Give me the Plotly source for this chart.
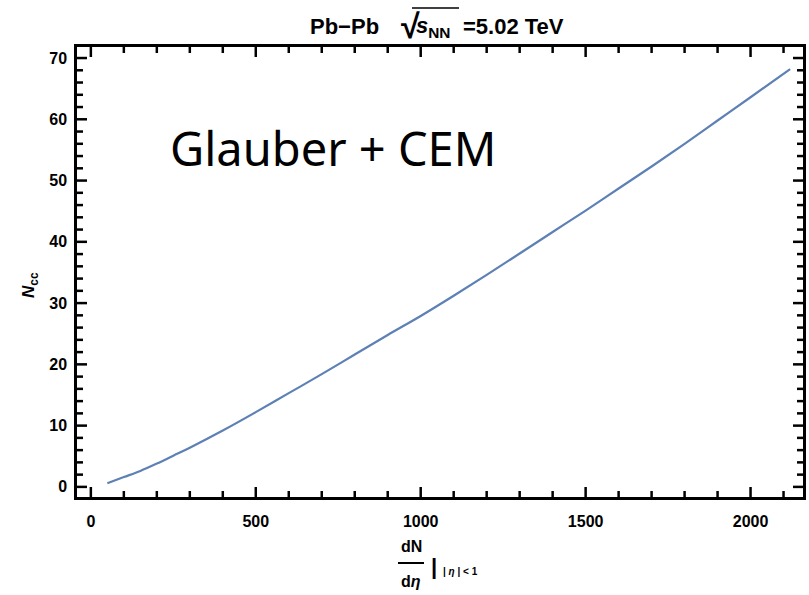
import plotly.graph_objects as go

# dN/deta (|eta|<1) and the number of charm pairs N_cc
dndeta = [50, 100, 150, 200, 250, 300, 400, 500, 600, 700, 800, 900, 1000,
          1100, 1200, 1300, 1400, 1500, 1600, 1700, 1800, 1900, 2000, 2120]
ncc = [0.6, 1.6, 2.6, 3.8, 5.1, 6.4, 9.2, 12.2, 15.3, 18.4, 21.6, 24.8, 27.9,
       31.2, 34.6, 38.1, 41.6, 45.1, 48.7, 52.3, 56.0, 59.8, 63.6, 68.2]

x_major = [0, 500, 1000, 1500, 2000]
x_minor = [v for v in range(0, 2101, 100) if v not in x_major]
y_major = [0, 10, 20, 30, 40, 50, 60, 70]
y_minor = [v for v in range(0, 71, 2) if v not in y_major]
x_range = [-42, 2159]
y_range = [-1.65, 71.8]

W, H = 809, 595
L, R, T, B = 77, 6, 47, 98
PW, PH = W - L - R, H - T - B


def px(x):
    return (x - L) / PW


def py(y):
    return (H - B - y) / PH


FAM = "Liberation Sans"


def bold(size):
    return dict(family=FAM, size=size, color="black", weight="bold")


fig = go.Figure()
fig.add_trace(go.Scatter(x=dndeta, y=ncc, mode="lines",
                         line=dict(color="#5E81B5", width=2.2, shape="spline"),
                         showlegend=False, hoverinfo="skip"))

axis_common = dict(showline=True, linecolor="black", linewidth=2.5,
                   mirror=True, ticks="", showgrid=False, zeroline=False,
                   tickfont=bold(16), tickmode="array", ticklabelstandoff=8)

fig.update_xaxes(range=x_range, tickvals=x_major,
                 ticktext=[str(v) for v in x_major], **axis_common)
fig.update_yaxes(range=y_range, tickvals=y_major,
                 ticktext=[str(v) for v in y_major], **axis_common)
fig.update_yaxes(ticklabelstandoff=4)


def label(x, y, text, font, xanchor="left", angle=0):
    return dict(x=px(x), y=py(y), xref="paper", yref="paper", text=text,
                showarrow=False, font=font, xanchor=xanchor,
                yanchor="middle", textangle=angle)


annotations = [
    # title: Pb-Pb  sqrt(s_NN) = 5.02 TeV
    label(308, 27, "Pb\u2212Pb", bold(22)),
    label(399, 26, "\u221a", bold(34)),
    label(414, 27, "<i>s</i><sub>NN</sub>", bold(22)),
    label(461, 27, "=5.02 TeV", bold(22)),
    # y-axis title
    label(30, 285, "<i>N</i><sub>cc</sub>", bold(17), "center", -90),
    # x-axis title: dN / deta |_{|eta|<1}
    label(411, 546, "dN", bold(16), "center"),
    label(411, 581, "d<i>η</i>", bold(16), "center"),
    label(434, 566, "|", bold(22), "center"),
    label(441, 571, "| <i>η</i> | < 1", bold(10)),
    # model label
    label(333, 148, "Glauber + CEM",
          dict(family="Comic Sans MS, Noto Sans", size=47, color="black"),
          "center"),
]

TICK = dict(color="black", width=2.5)
shapes = [
    # fraction bar
    dict(type="line", xref="paper", yref="paper",
         x0=px(398), x1=px(424), y0=py(563), y1=py(563),
         line=dict(color="black", width=2)),
    # radical vinculum over s_NN
    dict(type="line", xref="paper", yref="paper",
         x0=px(412), x1=px(459), y0=py(8), y1=py(8),
         line=dict(color="black", width=1.5)),
]

# inward tick marks on all four sides of the frame
for vals, length in ((x_major, 10), (x_minor, 6)):
    f = length / PH
    for v in vals:
        for y0, y1 in ((0, f), (1 - f, 1)):
            shapes.append(dict(type="line", xref="x", yref="paper",
                               x0=v, x1=v, y0=y0, y1=y1, line=TICK,
                               layer="above"))
for vals, length in ((y_major, 10), (y_minor, 6)):
    f = length / PW
    for v in vals:
        for x0, x1 in ((0, f), (1 - f, 1)):
            shapes.append(dict(type="line", xref="paper", yref="y",
                               x0=x0, x1=x1, y0=v, y1=v, line=TICK,
                               layer="above"))

fig.update_layout(template="none", width=W, height=H,
                  margin=dict(l=L, r=R, t=T, b=B),
                  plot_bgcolor="white", paper_bgcolor="white",
                  annotations=annotations, shapes=shapes)

fig.write_html("out.html")
